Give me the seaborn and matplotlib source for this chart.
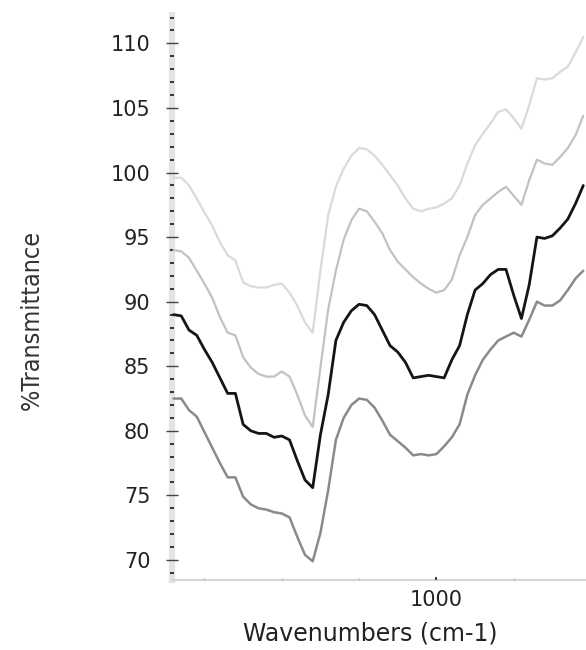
import numpy as np
import pandas as pd
import matplotlib
matplotlib.use("Agg")
import matplotlib.pyplot as plt
import seaborn as sns
from matplotlib.ticker import MultipleLocator, FixedLocator

# Four stacked IR spectra at 10 cm-1 steps
wavenumber = [1340, 1330, 1320, 1310, 1300, 1290, 1280, 1270, 1260, 1250,
              1240, 1230, 1220, 1210, 1200, 1190, 1180, 1170, 1160, 1150,
              1140, 1130, 1120, 1110, 1100, 1090, 1080, 1070, 1060, 1050,
              1040, 1030, 1020, 1010, 1000, 990, 980, 970, 960, 950,
              940, 930, 920, 910, 900, 890, 880, 870, 860, 850,
              840, 830, 820, 810]

trace_1 = [99.6, 99.6, 99.0, 98.0, 96.9, 95.9, 94.6, 93.6, 93.2, 91.5,
           91.2, 91.1, 91.1, 91.3, 91.4, 90.7, 89.7, 88.4, 87.6, 92.4,
           96.7, 98.9, 100.3, 101.3, 101.9, 101.8, 101.3, 100.6, 99.8, 99.0,
           98.0, 97.2, 97.0, 97.2, 97.3, 97.6, 98.0, 99.0, 100.7, 102.1,
           103.0, 103.8, 104.7, 104.9, 104.2, 103.4, 105.2, 107.3, 107.2, 107.3,
           107.8, 108.2, 109.3, 110.5]

trace_2 = [94.0, 93.9, 93.4, 92.4, 91.4, 90.3, 88.8, 87.6, 87.4, 85.7,
           84.9, 84.4, 84.2, 84.2, 84.6, 84.2, 82.8, 81.2, 80.3, 84.9,
           89.4, 92.4, 94.8, 96.3, 97.2, 97.0, 96.2, 95.3, 94.0, 93.1,
           92.5, 91.9, 91.4, 91.0, 90.7, 90.9, 91.7, 93.6, 95.0, 96.7,
           97.5, 98.0, 98.5, 98.9, 98.2, 97.5, 99.4, 101.0, 100.7, 100.6,
           101.2, 101.9, 102.9, 104.4]

trace_3 = [89.0, 88.9, 87.8, 87.4, 86.3, 85.3, 84.1, 82.9, 82.9, 80.5,
           80.0, 79.8, 79.8, 79.5, 79.6, 79.3, 77.7, 76.2, 75.6, 79.7,
           82.8, 87.0, 88.4, 89.3, 89.8, 89.7, 89.0, 87.8, 86.6, 86.1,
           85.3, 84.1, 84.2, 84.3, 84.2, 84.1, 85.5, 86.6, 89.0, 90.9,
           91.4, 92.1, 92.5, 92.5, 90.5, 88.7, 91.3, 95.0, 94.9, 95.1,
           95.7, 96.4, 97.6, 99.0]

trace_4 = [82.5, 82.5, 81.6, 81.1, 79.9, 78.7, 77.5, 76.4, 76.4, 74.9,
           74.3, 74.0, 73.9, 73.7, 73.6, 73.3, 71.8, 70.4, 69.9, 72.1,
           75.4, 79.3, 81.0, 82.0, 82.5, 82.4, 81.8, 80.8, 79.7, 79.2,
           78.7, 78.1, 78.2, 78.1, 78.2, 78.8, 79.5, 80.5, 82.8, 84.3,
           85.5, 86.3, 87.0, 87.3, 87.6, 87.3, 88.6, 90.0, 89.7, 89.7,
           90.1, 90.9, 91.8, 92.4]

series = {"trace_1": trace_1, "trace_2": trace_2, "trace_3": trace_3, "trace_4": trace_4}
colors = {"trace_1": "#dadada", "trace_2": "#c2c2c2", "trace_3": "#151515", "trace_4": "#8a8a8a"}
widths = {"trace_1": 1.6, "trace_2": 1.6, "trace_3": 2.0, "trace_4": 1.8}

sns.set_style("white")
plt.rcParams["font.family"] = ["DejaVu Sans"]

fig = plt.figure(figsize=(5.86, 6.5), dpi=100)
ax = fig.add_axes([172 / 586, 70 / 650, 414 / 586, 565 / 650])

for name, vals in series.items():
    df = pd.DataFrame({"wavenumber": wavenumber, "T": vals})
    sns.lineplot(data=df, x="wavenumber", y="T", color=colors[name],
                 linewidth=widths[name], ax=ax, legend=False)

ax.set_xlim(1342, 806.5)
ax.set_ylim(68.45, 112.2)

# y axis: grey band spine, labelled every 5, dashes every 1
for s in ["top", "right"]:
    ax.spines[s].set_visible(False)
ax.spines["left"].set_color("#e4e4e4")
ax.spines["left"].set_linewidth(4.5)
ax.spines["left"].set_zorder(0.5)
ax.spines["bottom"].set_color("#d6d6d6")
ax.spines["bottom"].set_linewidth(1.5)
ax.spines["bottom"].set_zorder(0.5)

ax.yaxis.set_major_locator(MultipleLocator(5))
ax.yaxis.set_minor_locator(MultipleLocator(1))
ax.set_yticks(range(70, 111, 5))
ax.tick_params(axis="y", which="major", direction="inout", length=9, width=1,
               color="#444444", labelsize=15, labelcolor="#222222", pad=11, left=True)
ax.tick_params(axis="y", which="minor", direction="inout", length=3.5, width=1.5,
               color="#3a3a3a", left=True)

ax.xaxis.set_major_locator(FixedLocator([1000]))
ax.xaxis.set_minor_locator(FixedLocator([1300, 1200, 1100, 900]))
ax.tick_params(axis="x", which="major", direction="in", length=2.5, width=1.5,
               color="#444444", labelsize=15, labelcolor="#222222", pad=7, bottom=True)
ax.tick_params(axis="x", which="minor", direction="in", length=1.5, width=1,
               color="#bbbbbb", bottom=True)

ax.set_xlabel("Wavenumbers (cm-1)", fontsize=17, color="#222222", va="center")
ax.xaxis.set_label_coords(0.478, -0.094)
ax.set_ylabel("%Transmittance", fontsize=18, color="#333333",
              family=["DejaVu Sans"], fontstretch="condensed", va="center")
ax.yaxis.set_label_coords(-0.338, 0.46)

fig.savefig("out.png", dpi=100)
